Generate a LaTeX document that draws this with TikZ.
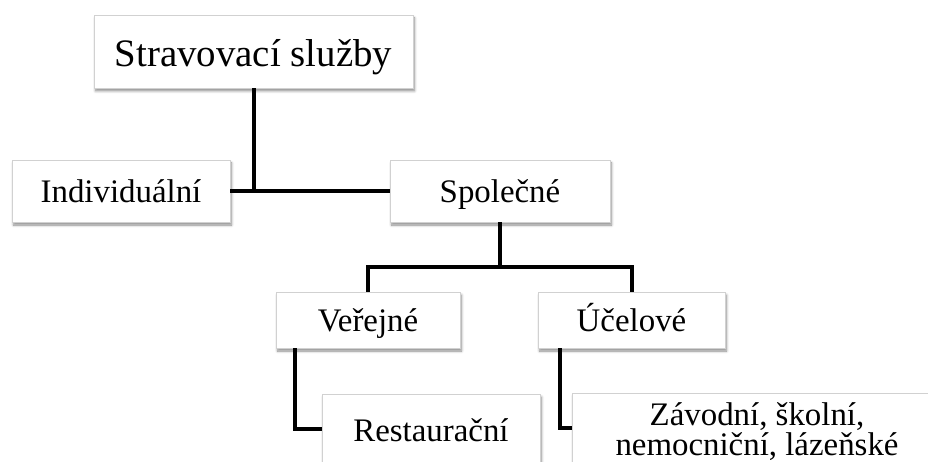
\documentclass[tikz,border=0pt]{standalone}
\usepackage{fontspec}
\setmainfont{Liberation Serif}
\usetikzlibrary{shadows.blur}
\begin{document}
\begin{tikzpicture}[x=1bp,y=-1bp,
  box/.style={draw=black!18, line width=0.8bp, fill=white, inner sep=0pt,
    text depth=0pt, text height=24bp, font=\fontsize{33}{30}\selectfont,
    blur shadow={shadow xshift=1.5bp, shadow yshift=-3bp, shadow opacity=45, shadow blur steps=6, shadow blur radius=2.5bp}},
  link/.style={line width=4bp, draw=black, line join=miter}]
\useasboundingbox (0,0) rectangle (928,462);
\clip (0,0) rectangle (928,462);
\node[box, minimum width=319bp, minimum height=73bp, text height=31bp,
  font=\fontsize{39}{40}\selectfont] (top) at (253.5,51.5) {Stravovací služby};
\node[box, minimum width=218bp, minimum height=62bp] (ind) at (121,191) {Individuální};
\node[box, minimum width=220bp, minimum height=62bp] (soc) at (500,191) {Společné};
\node[box, minimum width=184bp, minimum height=56bp] (ver) at (368,320) {Veřejné};
\node[box, minimum width=187bp, minimum height=56bp] (ucel) at (631.5,320) {Účelové};
\node[box, minimum width=218bp, minimum height=70bp] (rest) at (431,429) {Restaurační};
\node[box, minimum width=370bp, minimum height=70bp, align=center, text height=54bp, text depth=0bp] (zav) at (757,428) {Závodní, školní,\\nemocniční, lázeňské};
\coordinate (jy) at (0,267);
\draw[link] (top.south) -- (top.south |- ind.east);
\draw[link] (ind.east) -- (soc.west);
\draw[link] (soc.south) -- (soc.south |- jy);
\draw[link] (ver.north) -- (ver.north |- jy) -- (ucel.north |- jy) -- (ucel.north);
\draw[link] ([xshift=19bp]ver.south west) |- (rest.west);
\draw[link] ([xshift=22bp]ucel.south west) |- (zav.west);
\end{tikzpicture}
\end{document}
